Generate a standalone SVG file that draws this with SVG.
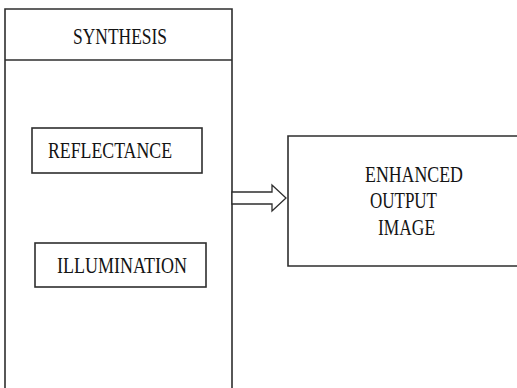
<svg xmlns="http://www.w3.org/2000/svg" width="517" height="388" viewBox="0 0 517 388">
  <style>
    .box { fill: #ffffff; stroke: #2e2e2e; stroke-width: 1.6; }
    .arrow { fill: #ffffff; stroke: #2e2e2e; stroke-width: 1.3; stroke-linejoin: miter; }
    text { font-family: "Liberation Serif", "DejaVu Serif", serif; font-size: 24px; fill: #141414; }
  </style>
  <rect width="517" height="388" fill="#ffffff"/>

  <!-- Synthesis container: header band plus open-ended body -->
  <g id="synthesis">
    <path class="box" d="M5,392 V9 H232 V392"/>
    <line class="box" x1="5" y1="60" x2="232" y2="60"/>
    <text x="73" y="44" textLength="94" lengthAdjust="spacingAndGlyphs">SYNTHESIS</text>
  </g>

  <g id="reflectance">
    <rect class="box" x="32" y="128" width="170" height="45"/>
    <text x="48" y="158" textLength="124" lengthAdjust="spacingAndGlyphs">REFLECTANCE</text>
  </g>

  <g id="illumination">
    <rect class="box" x="35" y="243" width="171" height="44"/>
    <text x="57" y="273" textLength="130" lengthAdjust="spacingAndGlyphs">ILLUMINATION</text>
  </g>

  <!-- Output block, running off the right edge -->
  <g id="enhanced-output">
    <path class="box" d="M520,136 H288 V266 H520"/>
    <text x="365" y="182" textLength="98" lengthAdjust="spacingAndGlyphs">ENHANCED</text>
    <text x="370" y="208" textLength="67" lengthAdjust="spacingAndGlyphs">OUTPUT</text>
    <text x="378" y="235" textLength="57" lengthAdjust="spacingAndGlyphs">IMAGE</text>
  </g>

  <!-- Block arrow from synthesis to output -->
  <g id="connectors">
    <path class="arrow" d="M232,192 H272 V185 L286,198 L272,211 V204 H232 Z"/>
  </g>
</svg>
